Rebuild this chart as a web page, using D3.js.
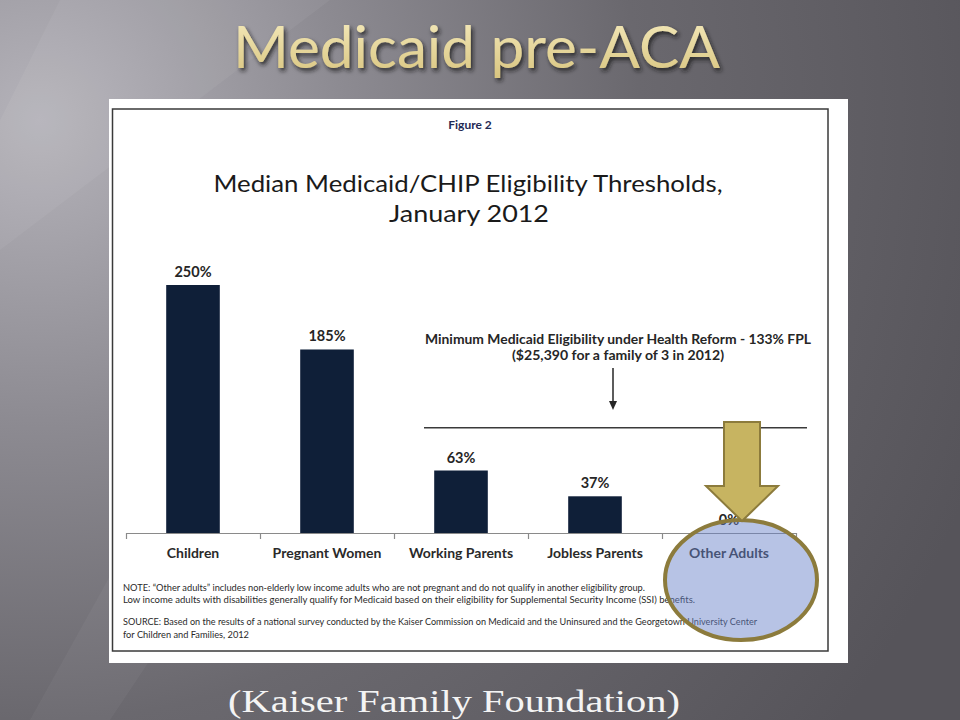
<!DOCTYPE html>
<html><head><meta charset="utf-8">
<script src="https://cdn.jsdelivr.net/npm/d3@7"></script>
<style>html,body{margin:0;padding:0;background:#5a585e;}svg{display:block;}</style>
</head><body>
<script>
// ---- data ----
const categories = ["Children", "Pregnant Women", "Working Parents", "Jobless Parents", "Other Adults"];
const values = [250, 185, 63, 37, 0];
const valueLabels = ["250%", "185%", "63%", "37%", "0%"];
const reformLevel = 106; // where the 133% FPL reference line is drawn on the chart's own scale
const annotationLines = ["Minimum Medicaid Eligibility under Health Reform - 133% FPL", "($25,390 for a family of 3 in 2012)"];
const annotationWidths = [386, 212];
const noteLines = [
  "NOTE:  \u201cOther adults\u201d includes non-elderly low income adults who are not pregnant and do not qualify in another eligibility group.",
  "Low income adults with disabilities generally qualify for Medicaid based on their eligibility for Supplemental Security Income (SSI) benefits.",
  "SOURCE: Based on the results of a national survey conducted by the Kaiser Commission on Medicaid and the Uninsured and the Georgetown University Center",
  "for Children and Families, 2012"
];
const noteWidths = [522, 572, 634, 126];

const W = 960, H = 720;
const svg = d3.select("body").append("svg").attr("width", W).attr("height", H);
const defs = svg.append("defs");

// background
const bg = defs.append("radialGradient").attr("id", "bg").attr("gradientUnits", "userSpaceOnUse")
  .attr("cx", 40).attr("cy", 120).attr("r", 1000);
[[0, "#b5b3ba"], [0.3, "#8d8b92"], [0.6, "#6a686e"], [1, "#56545a"]].forEach(s =>
  bg.append("stop").attr("offset", s[0]).attr("stop-color", s[1]));
svg.append("rect").attr("width", W).attr("height", H).attr("fill", "url(#bg)");
// faint diagonal streaks
svg.append("polygon").attr("points", "60,0 330,0 0,250 0,120").attr("fill", "#ffffff").attr("opacity", 0.05);
svg.append("polygon").attr("points", "130,540 230,540 110,720 30,720").attr("fill", "#ffffff").attr("opacity", 0.04);

// title gradient + shadow
const tg = defs.append("linearGradient").attr("id", "tg").attr("x1", 0).attr("y1", 0).attr("x2", 0).attr("y2", 1);
tg.append("stop").attr("offset", 0).attr("stop-color", "#f6ecc0");
tg.append("stop").attr("offset", 1).attr("stop-color", "#d8c47e");
const sh = defs.append("filter").attr("id", "sh").attr("x", "-10%").attr("y", "-20%").attr("width", "120%").attr("height", "160%");
sh.append("feDropShadow").attr("dx", 2).attr("dy", 3).attr("stdDeviation", 2).attr("flood-color", "#1a1a1a").attr("flood-opacity", 0.8);

svg.append("text").attr("x", 476.5).attr("y", 68).attr("text-anchor", "middle")
  .attr("font-family", "Lato, 'Open Sans', sans-serif").attr("font-size", 58)
  .attr("textLength", 487).attr("lengthAdjust", "spacingAndGlyphs")
  .attr("fill", "url(#tg)").attr("filter", "url(#sh)").text("Medicaid pre-ACA");

// white figure
svg.append("rect").attr("x", 109).attr("y", 99).attr("width", 739).attr("height", 564).attr("fill", "#ffffff");
svg.append("rect").attr("x", 112.5).attr("y", 109).attr("width", 715.5).attr("height", 542)
  .attr("fill", "none").attr("stroke", "#3a3a3a").attr("stroke-width", 1.5);

const F = "Lato, 'Open Sans', sans-serif";
svg.append("text").attr("x", 470).attr("y", 129).attr("text-anchor", "middle").attr("font-family", F)
  .attr("font-weight", "bold").attr("font-size", 12).attr("fill", "#1f2a55").text("Figure 2");
svg.append("text").attr("x", 468).attr("y", 192).attr("text-anchor", "middle").attr("font-family", F)
  .attr("font-size", 23).attr("fill", "#1a1a1a").attr("textLength", 509).attr("lengthAdjust", "spacingAndGlyphs")
  .text("Median Medicaid/CHIP Eligibility Thresholds,");
svg.append("text").attr("x", 469).attr("y", 222).attr("text-anchor", "middle").attr("font-family", F)
  .attr("font-size", 23).attr("fill", "#1a1a1a").attr("textLength", 160).attr("lengthAdjust", "spacingAndGlyphs")
  .text("January 2012");

// scales
const x = d3.scaleBand().domain(categories).range([126, 796]).paddingInner(0.6).paddingOuter(0.3);
const y = d3.scaleLinear().domain([0, 250]).range([533, 285]);
const edge = d3.scaleLinear().domain([0, categories.length]).range([126, 796]);

// axis
const ax = svg.append("g").attr("transform", "translate(0,533)")
  .call(d3.axisBottom(edge).tickValues(d3.range(0, categories.length + 1)).tickFormat("").tickSize(6).tickSizeOuter(0));
ax.select(".domain").attr("stroke", "#8a8a8a").attr("stroke-width", 1.2);
ax.selectAll(".tick line").attr("stroke", "#8a8a8a").attr("stroke-width", 1.2);

// bars
svg.append("g").selectAll("rect").data(values).join("rect")
  .attr("x", (d, i) => x(categories[i])).attr("width", x.bandwidth())
  .attr("y", d => y(d)).attr("height", d => y(0) - y(d)).attr("fill", "#0f1f38");

svg.append("g").selectAll("text").data(values).join("text")
  .attr("x", (d, i) => x(categories[i]) + x.bandwidth() / 2).attr("y", d => y(d) - 8)
  .attr("text-anchor", "middle").attr("font-family", F).attr("font-weight", "bold").attr("font-size", 14.5)
  .attr("fill", "#262626").text((d, i) => valueLabels[i]);

svg.append("g").selectAll("text").data(categories).join("text")
  .attr("x", d => x(d) + x.bandwidth() / 2).attr("y", 558)
  .attr("text-anchor", "middle").attr("font-family", F).attr("font-weight", "bold").attr("font-size", 14)
  .attr("fill", "#2a2a2a").text(d => d);

// reform line & annotation
svg.append("line").attr("x1", 424).attr("x2", 807).attr("y1", y(reformLevel)).attr("y2", y(reformLevel))
  .attr("stroke", "#3a3a3a").attr("stroke-width", 1.5);
svg.append("g").selectAll("text").data(annotationLines).join("text")
  .attr("x", 618).attr("y", (d, i) => 344 + i * 16).attr("text-anchor", "middle")
  .attr("font-family", F).attr("font-weight", "bold").attr("font-size", 12.5).attr("fill", "#262626")
  .attr("textLength", (d, i) => annotationWidths[i]).attr("lengthAdjust", "spacingAndGlyphs")
  .text(d => d);
svg.append("line").attr("x1", 613).attr("x2", 613).attr("y1", 368).attr("y2", 404)
  .attr("stroke", "#262626").attr("stroke-width", 1.5);
svg.append("path").attr("d", "M609,401 L617,401 L613,410 Z").attr("fill", "#262626");

// notes
svg.append("g").selectAll("text").data(noteLines).join("text")
  .attr("x", 123).attr("y", (d, i) => [591, 603, 625, 638][i])
  .attr("font-family", F).attr("font-size", 8.5).attr("fill", "#2a2a2a")
  .attr("textLength", (d, i) => noteWidths[i]).attr("lengthAdjust", "spacingAndGlyphs")
  .text(d => d);

// highlight ellipse
svg.append("ellipse").attr("cx", 741).attr("cy", 580).attr("rx", 76).attr("ry", 60)
  .attr("fill", "rgb(105,130,200)").attr("fill-opacity", 0.48)
  .attr("stroke", "#8c7b3c").attr("stroke-width", 4);

// gold arrow
svg.append("path")
  .attr("d", "M724,422 L760,422 L760,486 L778,486 L742,521 L706,486 L724,486 Z")
  .attr("fill", "#c7b461").attr("stroke", "#8c7b3c").attr("stroke-width", 2).attr("stroke-linejoin", "miter");

// caption
svg.append("text").attr("x", 454).attr("y", 712).attr("text-anchor", "middle")
  .attr("font-family", "'Liberation Serif', 'DejaVu Serif', serif").attr("font-size", 31)
  .attr("fill", "#f4f4f4").attr("textLength", 452).attr("lengthAdjust", "spacingAndGlyphs")
  .text("(Kaiser Family Foundation)");
</script>
</body></html>
